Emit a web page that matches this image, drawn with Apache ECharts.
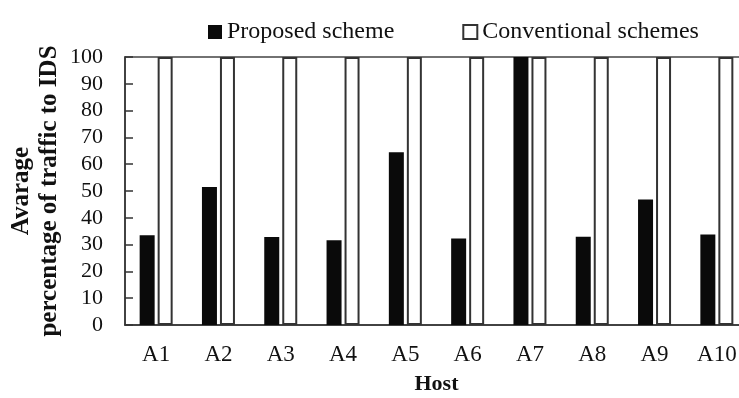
<!DOCTYPE html>
<html>
<head>
<meta charset="utf-8">
<script src="https://cdn.jsdelivr.net/npm/echarts@6/dist/echarts.min.js"></script>
<style>
  html, body { margin: 0; padding: 0; background: #fff; }
  #main { width: 739px; height: 398px; }
</style>
</head>
<body>
<div id="main"></div>
<script>
// 数据
let hosts = ['A1', 'A2', 'A3', 'A4', 'A5', 'A6', 'A7', 'A8', 'A9', 'A10'];
let proposedArr = [33.5, 51.5, 32.8, 31.6, 64.5, 32.3, 100, 32.9, 46.8, 33.8];
let conventionalArr = [100, 100, 100, 100, 100, 100, 100, 100, 100, 100];

function createCharts() {
  let myChart = echarts.init(document.getElementById('main'));
  let serif = '"Liberation Serif", "DejaVu Serif", serif';
  let option = {
    backgroundColor: '#fff',
    animation: false,
    legend: {
      left: 203,
      top: 15,
      itemWidth: 14,
      itemHeight: 14,
      itemGap: 68,
      textStyle: { fontFamily: serif, fontSize: 24, color: '#111' },
      data: [
        { name: 'Proposed scheme', icon: 'rect' },
        { name: 'Conventional schemes', icon: 'rect' }
      ]
    },
    grid: {
      left: 125,
      top: 57,
      width: 623,
      height: 268,
      outerBoundsMode: 'none',
      containLabel: false,
      show: true,
      borderColor: '#444',
      borderWidth: 1.5
    },
    xAxis: {
      type: 'category',
      data: hosts,
      name: 'Host',
      nameLocation: 'middle',
      nameGap: 48,
      nameTextStyle: { fontFamily: serif, fontSize: 22, fontWeight: 'bold', color: '#111' },
      axisLine: { lineStyle: { color: '#333', width: 1.5 } },
      axisTick: { show: false },
      axisLabel: { fontFamily: serif, fontSize: 23, color: '#111', margin: 18 }
    },
    yAxis: {
      type: 'value',
      min: 0,
      max: 100,
      interval: 10,
      name: 'Avarage\npercentage of traffic to IDS',
      nameLocation: 'middle',
      nameRotate: 90,
      nameGap: 61,
      nameMoveOverlap: false,
      nameTextStyle: { fontFamily: serif, fontSize: 25, fontWeight: 'bold', color: '#111', lineHeight: 28 },
      axisLine: { show: true, lineStyle: { color: '#333', width: 1.5 } },
      axisTick: { show: true, inside: true, length: 8, lineStyle: { color: '#333', width: 1.5 } },
      splitLine: { show: false },
      axisLabel: { fontFamily: serif, fontSize: 22, color: '#111', margin: 22 }
    },
    series: [
      {
        name: 'Proposed scheme',
        type: 'bar',
        data: proposedArr,
        barWidth: 15,
        barGap: '20%',
        itemStyle: { color: '#0a0a0a' }
      },
      {
        name: 'Conventional schemes',
        type: 'bar',
        data: conventionalArr,
        barWidth: 15,
        itemStyle: { color: '#fff', borderColor: '#333', borderWidth: 2 }
      }
    ]
  };
  myChart.setOption(option);
}

createCharts();
</script>
</body>
</html>
